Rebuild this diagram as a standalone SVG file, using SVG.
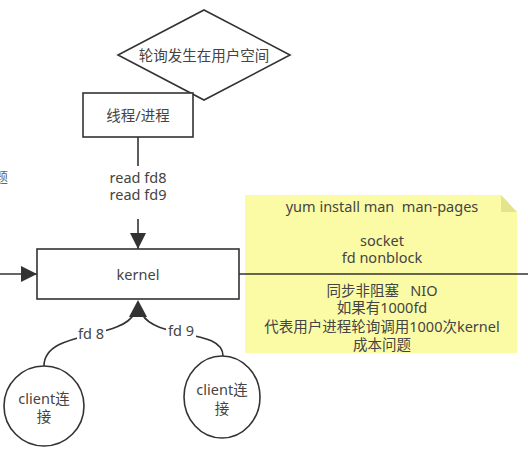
<svg xmlns="http://www.w3.org/2000/svg" width="528" height="456" viewBox="0 0 528 456">
<defs>
<style>
.s{fill:#fff;stroke:#333;stroke-width:1.6}
.t{font-family:"Noto Sans","Noto Sans CJK SC",sans-serif;font-size:14.5px;fill:#444;text-anchor:middle;dominant-baseline:central}
.c{fill:none;stroke:#333;stroke-width:1.6}
</style>
<marker id="b" viewBox="0 0 10 10" refX="10" refY="5" markerWidth="16" markerHeight="16" markerUnits="userSpaceOnUse" orient="auto">
<path d="M0,0 L10,5 L0,10 Z" fill="#333"/>
</marker>
</defs>
<rect width="528" height="456" fill="#fff"/>
<text x="-6" y="176" style="font-family:'Noto Sans CJK SC',sans-serif;font-size:14px;fill:#666;dominant-baseline:central">题</text>
<g id="note">
<path d="M245,195 L501,195 L517,212 L517,353 L245,353 Z" fill="#fbfba6"/>
<path d="M501,195 L517,212 L501,212 Z" fill="#e4e48c"/>
<text class="t" x="382" y="206" xml:space="preserve">yum install man  man-pages</text>
<text class="t" x="382" y="240">socket<tspan x="382" dy="17">fd nonblock</tspan></text>
<text class="t" x="382" y="290" xml:space="preserve">同步非阻塞   NIO<tspan x="382" dy="17">如果有1000fd</tspan><tspan x="382" dy="19">代表用户进程轮询调用1000次kernel</tspan><tspan x="382" dy="18">成本问题</tspan></text>
</g>
<g id="connectors">
<path class="c" d="M138,137 L138,166"/>
<path class="c" d="M138,219 L138,249" marker-end="url(#b)"/>
<path class="c" d="M0,274 L37,274" marker-end="url(#b)"/>
<path class="c" d="M239,274 L528,274"/>
<path class="c" d="M44,366 C44,330 120,340 134,314"/>
<path class="c" d="M223,356 C223,328 156,340 142,314"/>
<polygon points="138,300 129,317 147,317" fill="#333"/>
<rect x="77" y="324" width="29" height="18" fill="#fff"/>
<text class="t" x="91" y="333">fd 8</text>
<rect x="166" y="321" width="30" height="18" fill="#fff"/>
<text class="t" x="181" y="330">fd 9</text>
<text class="t" x="138" y="177">read fd8<tspan x="138" dy="17">read fd9</tspan></text>
</g>
<g id="diamond">
<polygon class="s" points="204,10 290,55 204,100 118,55"/>
<text class="t" x="204" y="55">轮询发生在用户空间</text>
</g>
<g id="thread">
<rect class="s" x="83" y="93" width="110" height="44"/>
<text class="t" x="138" y="115">线程/进程</text>
</g>
<g id="kernel">
<rect class="s" x="37" y="249" width="202" height="50"/>
<text class="t" x="138" y="274">kernel</text>
</g>
<g id="client1">
<circle class="s" cx="44" cy="406" r="40"/>
<text class="t" x="44" y="398">client连<tspan x="44" dy="18">接</tspan></text>
</g>
<g id="client2">
<ellipse class="s" cx="222" cy="397" rx="38" ry="41"/>
<text class="t" x="222" y="389">client连<tspan x="222" dy="19">接</tspan></text>
</g>
</svg>
